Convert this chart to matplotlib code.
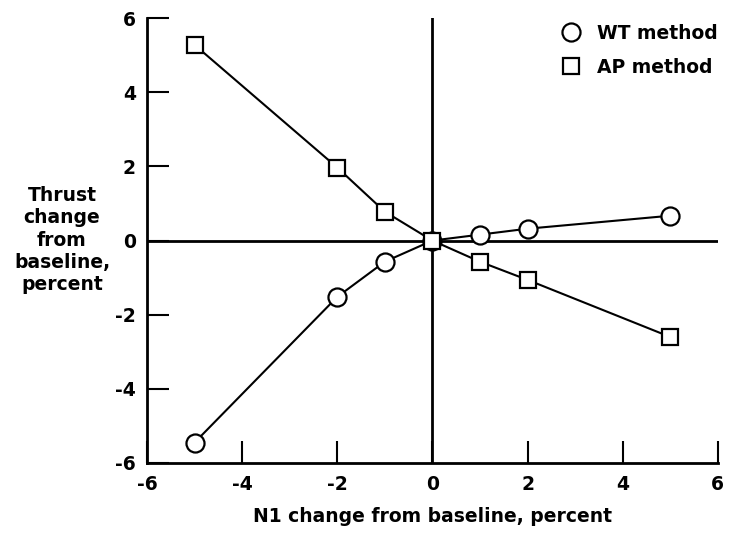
import matplotlib.pyplot as plt

plt.rcParams['font.family'] = ['DejaVu Sans']
plt.rcParams['font.weight'] = 'bold'

n1 = [-5, -2, -1, 0, 1, 2, 5]
wt_thrust = [-5.45, -1.52, -0.57, 0.0, 0.16, 0.32, 0.67]
ap_thrust = [5.28, 1.97, 0.78, 0.0, -0.57, -1.06, -2.6]

xticks = [-6, -4, -2, 0, 2, 4, 6]
yticks = [-6, -4, -2, 0, 2, 4, 6]

fig = plt.figure(figsize=(7.29, 5.34), dpi=100)
ax = fig.add_axes([0.2016, 0.133, 0.783, 0.833])

ax.axhline(0, color='black', lw=2, zorder=1)
ax.axvline(0, color='black', lw=2, zorder=1)

ax.plot(n1, wt_thrust, color='black', lw=1.5, marker='o', ms=13,
        mfc='white', mec='black', mew=1.6, label='WT method', zorder=3)
ax.plot(n1, ap_thrust, color='black', lw=1.5, marker='s', ms=11,
        mfc='white', mec='black', mew=1.6, label='AP method', zorder=3)

ax.set_xlim(-6, 6)
ax.set_ylim(-6, 6)
ax.set_xticks(xticks)
ax.set_yticks(yticks)
ax.set_xticklabels([str(t) for t in xticks])
ax.set_yticklabels([str(t) for t in yticks])

ax.spines['top'].set_visible(False)
ax.spines['right'].set_visible(False)
ax.spines['left'].set_linewidth(2)
ax.spines['bottom'].set_linewidth(2)

ax.tick_params(direction='in', length=16, width=1.5, labelsize=13.5)
ax.tick_params(axis='x', pad=9)
ax.tick_params(axis='y', pad=8)

ax.set_xlabel('N1 change from baseline, percent', fontsize=13.5, fontweight='bold', labelpad=9)
fig.text(0.085, 0.55, 'Thrust\nchange\nfrom\nbaseline,\npercent', ha='center', va='center',
         fontsize=13.5, fontweight='bold', linespacing=1.22)

leg = ax.legend(loc='upper right', bbox_to_anchor=(1.03, 1.025), frameon=False,
                fontsize=13.5, handlelength=1.2, handletextpad=0.8, labelspacing=0.8,
                numpoints=1)
for h in leg.legend_handles:
    h.set_linestyle('none')

fig.savefig('out.png', dpi=100)
